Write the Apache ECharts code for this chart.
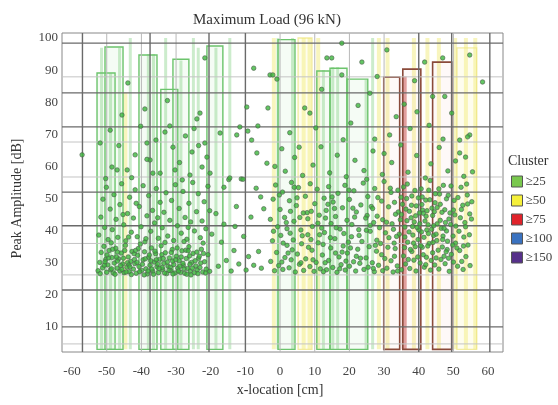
<!DOCTYPE html>
<html>
<head>
<meta charset="utf-8">
<script src="https://cdn.jsdelivr.net/npm/echarts@6/dist/echarts.min.js"></script>
<style>
  html, body { margin: 0; background: #fff; }
  #chart { width: 558px; height: 405px; }
</style>
</head>
<body>
<div id="chart"></div>
<script>
// cluster classes shown in the legend
const clusterNames = ['≥25', '≥50', '≥75', '≥100', '≥150'];

// outlined boxes: [xStart, xEnd, top] in cm / dB
const boxes25 = [[-52.8, -47.6, 89.1], [-50.5, -45.3, 97.2], [-40.7, -35.5, 94.7], [-34.4, -29.5, 84],
  [-30.9, -26.3, 93.4], [-21.1, -16.5, 97.5], [-0.6, 4.3, 99.5], [10.6, 14.4, 89.7], [14.4, 19.3, 90.6], [19.3, 25.3, 87.2]];
const boxes50 = [[5.2, 9.2, 100], [51, 56.7, 96.9]];
const boxes75 = [[29.9, 34.5, 87.8], [35.4, 40.6, 90.3], [44, 49.5, 92.5]];

// thin coloured strips: [x, top]
const strips25 = [[-51.5, 97], [-48.9, 89], [-46.3, 97], [-43.2, 100], [-38, 95], [-36.5, 95], [-33, 100], [-28.6, 93],
  [-25, 100], [-23.6, 97], [-18.5, 97], [-14.5, 100], [-0.6, 100], [3.6, 100], [12.5, 90], [15.2, 91], [16.6, 91],
  [19.6, 87], [24.8, 87], [26.7, 100]];
const strips50 = [[-44.6, 83], [-1.8, 100], [6.8, 100], [8.5, 100], [11, 100], [28.5, 100], [31, 100], [38.6, 100],
  [42.5, 100], [45.8, 100], [50.5, 100], [53.6, 100], [56.3, 100]];
const strips75 = [[35.8, 88]];

// grid lines of the original figure
const hLinesDark = [98.4, 82.9, 72.3, 52, 41.5, 21.5, 10];
const hLinesLight = [87.9, 67.6, 56.7, 36, 26.2, 4.7];
const vLinesDark = [-57, -37.5, -20.5, -10, 40, 49.5, 60.5];
const vLinesLight = [-50, -40, -30, 0, 10, 20, 30, 50];

// events: [x, amplitude]
const ptsLeftLow = [[-52.5,27.5],[-52,30.1],[-51.6,33.2],[-51.2,28.4],[-50.8,35.1],[-50.3,31],[-50,27],[-49.7,29.3],[-49.3,33.8],
  [-48.9,27.8],[-48.5,31.6],[-48.1,26.8],[-47.8,29.9],[-47.4,34.5],[-47,28.3],[-46.6,31.2],[-46.2,27.4],[-45.8,33],[-45.4,29.6],
  [-45,26.9],[-44.6,35.4],[-44.2,28.6],[-43.8,31.8],[-43.5,27.2],[-43.1,30.4],[-42.7,33.5],[-42.3,28],[-41.9,29.7],[-41.5,26.7],
  [-41.1,32.3],[-40.7,28.8],[-40.3,35.8],[-39.9,27.6],[-39.5,30.9],[-39.1,33.4],[-38.7,28.1],[-38.3,26.5],[-37.9,31.7],[-37.5,29.2],
  [-37.1,34.6],[-36.7,27.3],[-36.3,30.2],[-35.9,32.8],[-35.5,28.7],[-35.1,26.9],[-34.7,31.1],[-34.3,35.3],[-33.9,27.9],[-33.5,29.8],
  [-33.1,33.1],[-32.7,26.6],[-32.3,28.9],[-31.9,31.5],[-31.5,27.5],[-31.1,34.1],[-30.7,29.4],[-30.3,26.8],[-29.9,32],[-29.5,28.3],
  [-29.1,30.6],[-28.7,27],[-28.3,33.7],[-27.9,29.1],[-27.5,26.7],[-27.1,31.3],[-26.7,28.2],[-26.3,35],[-25.9,27.4],[-25.5,30.1],
  [-25.1,32.9],[-24.7,26.9],[-24.3,29],[-23.9,27.7],[-23.5,31.4],[-23.1,28.5],[-22.7,34.2],[-22.3,27.1],[-21.8,30.3],[-21.3,28],
  [-20.8,32.5],[-20.3,27.3],[-46.9,30.5],[-44,30],[-42,31],[-37,28],[-31,30.5],[-28,29.8],[-26,29.5],[-34,28.5],[-49.5,31.5]];
const ptsLeftDense = [[-51.9,26.6],[-50.7,29.2],[-49.9,32.4],[-48.6,28.1],[-47.6,26.4],[-46.9,33.3],[-46,29.1],[-45.2,31.4],
  [-44.4,27.1],[-43.6,29.3],[-42.9,26.3],[-42.1,32.8],[-41.3,30.1],[-40.5,27.2],[-39.7,29.5],[-38.9,31.2],[-38.1,27.4],[-37.3,30.6],
  [-36.5,26.4],[-35.7,30.9],[-34.9,28.2],[-34.1,32.5],[-33.3,26.8],[-32.5,30.2],[-31.7,28.6],[-30.9,26.5],[-30.1,30.9],[-29.3,27.4],
  [-28.5,31.8],[-27.7,28.1],[-26.9,26.4],[-26.1,32.1],[-25.3,28.3],[-24.5,30.6],[-23.7,26.6],[-22.9,29.9],[-22.1,32.9],[-21.5,26.8],
  [-48.3,34.2],[-44.8,33.8],[-40.9,34.4],[-36.1,33.6],[-31.4,33.2],[-27.2,33.9],[-24,33.3],[-47.2,31.8],[-43.3,28.7],[-39.2,26.2],
  [-35.3,29.6],[-32,27.6],[-28.9,28.9],[-25.7,26.2],[-23.3,32],[-50.5,30.3],[-45.6,27.9],[-41.7,33.8],[-37.7,32.4],[-33.7,31.3],
  [-29.7,34.6],[-26.5,33.7]];
const ptsLeftMid = [[-52.3,38.6],[-51.7,44.2],[-51.1,49.8],[-50.6,41],[-50.1,53.5],[-49.6,37.2],[-49,46.7],[-48.4,40.3],[-47.9,51.2],
  [-47.3,43.5],[-46.8,37.9],[-46.2,48.1],[-45.7,54.6],[-45.1,41.8],[-44.5,36.8],[-44,45.3],[-43.4,50.4],[-42.9,39.5],[-42.3,43.9],
  [-41.8,52.7],[-41.2,38.1],[-40.6,47.5],[-40.1,41.2],[-39.5,54],[-39,36.5],[-38.4,44.6],[-37.9,50.9],[-37.3,39.8],[-36.8,46.3],
  [-36.2,42.4],[-35.7,53.1],[-35.1,37.6],[-34.6,48.8],[-34,40.9],[-33.5,45.7],[-32.9,51.8],[-32.4,38.3],[-31.8,43.2],[-31.3,49.4],
  [-30.7,36.9],[-30.2,54.3],[-29.6,41.5],[-29.1,46.9],[-28.5,39.2],[-28,52.2],[-27.4,44.1],[-26.9,37.3],[-26.3,48.5],[-25.8,42.7],
  [-25.2,55],[-24.7,39.9],[-24.1,45.9],[-23.6,51.5],[-23,37.8],[-22.5,43],[-21.9,49],[-21.4,40.6],[-20.8,53.8],[-20.3,46.2],
  [-19.7,38.9],[-48.7,36.2],[-43.7,38],[-38.7,37.5],[-33.2,36.3],[-27.7,36.6],[-22.2,36.1],[-45.3,45],[-35.3,44],[-26.5,41],[-41.5,48.5]];
const ptsLeftHigh = [[-57.1,63.6],[-51.9,67.3],[-49,71.3],[-45.6,76],[-43.9,86],[-39,77.9],[-38.4,67.3],[-37.5,62],[-33.2,70.7],
  [-31.8,72.6],[-21.7,93.8],[-24,74.8],[-23.1,76.6],[-21.7,67.3],[-17.3,70.4],[-48.5,59.8],[-47,58.9],[-44.1,58.9],[-41.8,63.6],
  [-38.4,62.2],[-36.7,57.9],[-34.6,57.9],[-30.9,66],[-30.3,58.9],[-26,57.3],[-22.5,59.8],[-21.1,62.9],[-20.2,57.9],[-50.3,56.2],
  [-42.8,56.5],[-29,61.2],[-25.4,64.5],[-27.3,69.5],[-35.8,68.2],[-46.5,66.5],[-32.5,80.5],[-40.2,72.5],[-24.8,71.8],[-23.5,66.5],[-28.2,55.8]];
const ptsGap = [[-18.5,45.3],[-17.8,28.9],[-16.9,36.4],[-16.2,42],[-15.5,30.7],[-14.8,55.9],[-14.1,27.4],[-13.3,33.8],[-12.6,47.5],
  [-11.9,29.6],[-11.2,56.1],[-10.5,38.2],[-9.8,27.7],[-9.1,31.9],[-8.4,44.2],[-7.6,29.2],[-6.9,53.2],[-6.2,33.5],[-5.4,28.3],
  [-4.7,46.8],[-14.5,56.4],[-10.7,56],[-9.6,78.5],[-7.6,90.6],[-11.6,72.3],[-9.3,71],[-6.4,72.6],[-6.7,64.2],[-3.5,78.2],
  [-2.9,88.5],[-0.9,87.2],[-3.8,61],[-12.5,69.8],[-8.2,68.2],[-16.2,53.5],[-5.6,50.5],[-13,41.3]];
const ptsRightLow = [[-2.7,30.4],[-2.2,36.8],[-1.6,27.5],[-1,33.2],[-0.4,29.1],[0.2,38.5],[0.8,27.9],[1.4,31.6],[2,35.4],[2.6,28.4],
  [3.2,30.9],[3.8,37.1],[4.4,27.1],[5,32.7],[5.6,29.5],[6.2,35.9],[6.8,27.6],[7.4,31.2],[8,38.7],[8.6,28.8],[9.2,33.9],[9.8,27.3],
  [10.4,30.1],[11,36.2],[11.6,28.1],[12.2,32.4],[12.8,39.4],[13.4,27.8],[14,30.7],[14.6,34.6],[15.2,28.5],[15.8,37.5],[16.4,27],
  [17,31.8],[17.6,29.4],[18.2,35.2],[18.8,27.7],[19.4,33],[20,28.9],[20.6,38.1],[21.2,30.3],[21.8,27.4],[22.4,34.2],[23,29.8],
  [23.6,36.6],[24.2,27.9],[24.8,31.5],[25.4,28.6],[26,39.8],[26.6,30],[27.2,27.2],[27.8,33.6],[28.4,29.2],[29,36],[29.6,27.5],
  [30.2,31.3],[30.8,28.3],[31.4,37.8],[32,30.6],[32.6,27.1],[33.2,34.4],[33.8,29],[34.4,38.9],[35,27.8],[35.6,32.1],[36.2,29.6],
  [36.8,36.4],[37.4,28.2],[38,33.5],[38.6,30.8],[39.2,27.4],[39.8,37.2],[40.4,29.9],[41,34.8],[41.6,28.6],[42.2,31.7],[42.8,39.1],
  [43.4,27.7],[44,33.1],[44.6,29.3],[45.2,36.9],[45.8,28],[46.4,31],[47,38.3],[47.6,29.7],[48.2,34.1],[48.8,27.3],[49.4,32.6],
  [50,30.2],[50.6,36.1],[51.2,28.9],[51.8,33.8],[52.4,30.4],[53,38],[53.6,31.9],[54.2,35.5],[54.8,29.1],[37,31],[39,35],[41.3,32.5],
  [43,36],[45,31.5],[36,38],[38.3,38.6],[42,29.4],[46.8,34.9],[40.8,39.6],[13,30],[16,33],[19,30.5],[22,32],[2.3,33],[6,30],
  [8.2,34.8],[25.7,35],[29.3,32.5],[33,32],[44.3,38.5],[47.3,32],[49.8,35.5],[52.8,27.9]];
const ptsRightDense = [[0.5,30.2],[1.8,42.5],[3.5,34],[4.9,50.2],[6.4,38.4],[7.8,45.6],[9.5,30.9],[11.4,38.7],[13.1,43.9],[14.5,37.8],
  [16.2,40.9],[17.9,33.3],[19.7,36.4],[21.5,44.2],[23.2,31.4],[24.9,40.1],[26.3,47.5],[27.9,37],[29.6,43.4],[31.1,34.8],[32.3,42.1],
  [33.6,38.2],[34.9,50.4],[35.9,34.7],[36.6,43.1],[37.2,39.6],[37.9,47.9],[38.5,36.1],[39.1,44.6],[39.7,31.8],[40.3,42.1],[40.9,48.1],
  [41.5,37.9],[42.1,44.5],[42.6,35.2],[43.2,49.6],[43.7,40.4],[44.5,45.9],[45,38.9],[45.6,33.9],[46.2,43.2],[46.9,37.2],[47.5,46.5],
  [48,39.9],[48.6,31.4],[49.2,41.9],[49.9,38.3],[50.4,44.9],[51,34.6],[51.6,39.8],[52.3,46.6],[52.9,35.2],[53.5,41.2],[54.1,48.3],
  [54.6,38.7],[55.2,43.6],[36.3,46.7],[38.2,41.3],[40.6,35.3],[42.3,40.2],[44.1,36.3],[46.5,40.7],[48.3,36.7],[50.2,49.4],[37.6,34.1],
  [41.1,46.4],[45.3,47.2],[43.6,30.7],[39.9,50.2],[47.9,33.4],[2.9,39.2],[5.7,44.1],[8.9,37.2],[10.9,42.3],[12.4,35.7],[15.7,46.9],
  [18.4,39.1],[20.3,34.6],[22.8,38.5],[25.1,44.7],[27.5,35.4],[30.4,39.3],[32.9,36.1],[34.1,45.8],[0.9,36.1],[-1.9,39.8],[-0.2,51.1],
  [4.1,53.5],[13.8,48.2],[19.9,52.6],[28.2,50.3],[31.8,53.2],[35.6,53.6],[42.9,52.6],[47.1,54.1],[53.8,54.5],[12.5,27.2],[17.2,28.1],
  [26.9,28.2],[33.9,27.4]];
const ptsRightMid = [[-2.8,43.5],[-2,49.8],[-1.3,54.2],[-0.7,41.2],[0,46.6],[0.7,52],[1.3,44.1],[2,40.6],[2.7,49.3],[3.3,55],
  [4,42.9],[4.7,47.8],[5.3,53.4],[6,40.2],[6.7,45.5],[7.3,50.7],[8,43.7],[8.7,54.6],[9.3,41.3],[10,48.4],[10.7,52.9],[11.3,44.8],
  [12,40.8],[12.7,50.1],[13.3,46.3],[14,53.7],[14.7,42.2],[15.3,48.9],[16,44.4],[16.7,51.6],[17.3,40.5],[18,47.1],[18.7,54.1],
  [19.3,43.2],[20,49.7],[20.7,41.9],[21.3,52.4],[22,45.8],[22.7,40.3],[23.3,48],[24,54.8],[24.7,43.9],[25.3,50.6],[26,41.6],
  [26.7,46.9],[27.3,53.1],[28,44.5],[28.7,40.9],[29.3,49.2],[30,55.3],[30.7,42.6],[31.3,47.4],[32,51.9],[32.7,40.4],[33.3,45.1],
  [34,52.6],[34.7,43.4],[35.3,48.2],[36,41.1],[36.7,54.5],[37.3,46],[38,50.8],[38.7,42.7],[39.3,47.7],[40,40.2],[40.7,53],
  [41.3,45.4],[42,49.5],[42.7,41.8],[43.3,55.6],[44,44.7],[44.7,48.7],[45.3,42.1],[46,51.4],[46.7,45.7],[47.3,40.7],[48,49.9],
  [48.7,43.6],[49.3,53.9],[50,46.4],[50.7,41.4],[51.3,50.3],[52,44],[52.7,47.9],[53.3,42.5],[54,51.1],[54.7,45.2],[55.3,49],
  [37.8,44],[39.5,41],[41.8,43],[43.8,47],[45.8,53],[47.7,42.5],[40.2,45.5],[36.5,50],[38.9,52.5],[42.4,46.2],[44.3,41.5],
  [46.2,48.2],[49,45.5],[3,46],[9,46],[15,50.5],[21,47],[27,42.5],[33,48.8],[35,45],[41,50.5],[44.8,51.5],[48.5,51],[52.2,53.5]];
const ptsRightHigh = [[-2.1,88.5],[7.1,78.2],[8.6,76.6],[25.9,82.8],[27.3,68.5],[31.6,69.8],[44,81.8],[47.5,81.8],[49.5,76.6],
  [54.7,69.8],[51.8,64.2],[53.5,62.9],[17.8,98.4],[30.8,96.3],[23.6,92.5],[13.5,93.8],[14.9,93.8],[17.8,88.5],[41.7,92.5],
  [46.9,93.8],[54.7,94.7],[58.4,86.3],[38.8,86.7],[54.1,69.2],[51.8,68.2],[1.5,58.5],[4.2,62.8],[6.5,57.2],[9.5,60.4],[11.8,66.1],
  [14.3,58],[16.5,63.5],[19.1,56.8],[21.6,61.9],[24.2,58.7],[26.8,64.8],[29.5,57.5],[32.2,61.2],[34.8,66.7],[36.9,58.2],[39.4,63.4],
  [41.9,56.4],[43.5,60.8],[45.9,65.9],[48.4,58.6],[50.6,61.7],[53,56.9],[55.5,58.3],[2.8,70.5],[10.3,72],[20.4,73.5],[33.5,75.5],
  [37.5,71.8],[43,72.8],[35.8,79.4],[22.5,79],[12,84],[28,88],[39.5,77],[5.5,66],[18.2,68.3],[30,64],[47,68.5],[25,56],[-1.5,60],[0.5,65.5]];

const boxBase = 3;
const serif = 'Liberation Serif';

const chart = echarts.init(document.getElementById('chart'));

function boxSeries(name, data, stroke, fill, lw) {
  return {
    name, type: 'custom', xAxisIndex: 1, yAxisIndex: 1, z: 2, silent: true,
    renderItem(params, api) {
      const a = api.coord([api.value(0), api.value(2)]);
      const b = api.coord([api.value(1), boxBase]);
      return { type: 'rect', shape: { x: a[0], y: a[1], width: b[0] - a[0], height: b[1] - a[1] },
        style: { fill, stroke, lineWidth: lw } };
    },
    data
  };
}

function stripSeries(data, fill, w) {
  return {
    type: 'custom', xAxisIndex: 1, yAxisIndex: 1, z: 1, silent: true,
    renderItem(params, api) {
      const a = api.coord([api.value(0), api.value(1)]);
      const b = api.coord([api.value(0), boxBase]);
      return { type: 'rect', shape: { x: a[0] - w / 2, y: a[1], width: w, height: b[1] - a[1] }, style: { fill } };
    },
    data
  };
}

function lineSeries(values, horizontal, stroke, lw) {
  return {
    type: 'custom', xAxisIndex: 1, yAxisIndex: 1, z: 3, silent: true,
    renderItem(params, api) {
      const cs = params.coordSys;
      if (horizontal) {
        const y = api.coord([0, api.value(1)])[1];
        return { type: 'line', shape: { x1: cs.x, y1: y, x2: cs.x + cs.width, y2: y }, style: { stroke, lineWidth: lw } };
      }
      const x = api.coord([api.value(0), 50])[0];
      return { type: 'line', shape: { x1: x, y1: cs.y, x2: x, y2: cs.y + cs.height }, style: { stroke, lineWidth: lw } };
    },
    data: values.map(v => horizontal ? [0, v] : [v, 50])
  };
}

const legendColors = ['#79c84e', '#f5f03a', '#e0232b', '#3a72c0', '#56308a'];

chart.setOption({
  animation: false,
  title: [
    { text: 'Maximum Load (96 kN)', left: 188, top: 8,
      textStyle: { fontFamily: serif, fontSize: 15, fontWeight: 'normal', color: '#333' } },
    { text: 'Cluster', left: 503, top: 149,
      textStyle: { fontFamily: serif, fontSize: 14, fontWeight: 'normal', color: '#333' } }
  ],
  legend: {
    orient: 'vertical', left: 506, top: 170, itemWidth: 11, itemHeight: 11, itemGap: 6,
    icon: 'rect', selectedMode: false,
    textStyle: { fontFamily: serif, fontSize: 13, color: '#444', lineHeight: 11, padding: [0, 0, 0, -2] },
    data: clusterNames.map((n, i) => ({ name: n, itemStyle: { color: legendColors[i], borderColor: '#555', borderWidth: 1 } }))
  },
  grid: [
    { left: 72, right: 70, top: 38, bottom: 46 },
    { left: 62, right: 55, top: 33, bottom: 53, show: true, borderColor: '#888', borderWidth: 1, backgroundColor: 'transparent' }
  ],
  xAxis: [
    { gridIndex: 0, type: 'value', min: -60, max: 60, interval: 10,
      name: 'x-location [cm]', nameLocation: 'middle', nameGap: 24,
      nameTextStyle: { fontFamily: serif, fontSize: 14, color: '#333' },
      axisLine: { show: false }, axisTick: { show: false }, splitLine: { show: false },
      axisLabel: { fontFamily: serif, fontSize: 13, color: '#444', margin: 6 } },
    { gridIndex: 1, type: 'value', min: -62.9, max: 64.3, show: false, splitLine: { show: false } }
  ],
  yAxis: [
    { gridIndex: 0, type: 'value', min: 0, max: 100, interval: 10,
      name: 'Peak Amplitude [dB]', nameLocation: 'middle', nameGap: 48,
      nameTextStyle: { fontFamily: serif, fontSize: 14, color: '#333' },
      axisLine: { show: false }, axisTick: { show: false }, splitLine: { show: false },
      axisLabel: { fontFamily: serif, fontSize: 13, color: '#444', margin: 14, formatter: v => v === 0 ? '' : v } },
    { gridIndex: 1, type: 'value', min: 2.18, max: 101.56, show: false, splitLine: { show: false } }
  ],
  series: [
    stripSeries(strips25, 'rgba(110,200,110,0.35)', 3),
    stripSeries(strips50, 'rgba(240,232,110,0.45)', 4),
    stripSeries(strips75, 'rgba(205,95,95,0.6)', 5),
    boxSeries('≥25', boxes25, '#6cc46c', 'rgba(130,215,130,0.08)', 1.4),
    boxSeries('≥50', boxes50, 'rgba(236,228,122,0.7)', 'rgba(250,245,150,0.16)', 1.3),
    boxSeries('≥75', boxes75, '#8a4a3a', 'rgba(230,150,130,0.06)', 1.6),
    { name: '≥100', type: 'custom', xAxisIndex: 1, yAxisIndex: 1, renderItem: () => null, data: [] },
    { name: '≥150', type: 'custom', xAxisIndex: 1, yAxisIndex: 1, renderItem: () => null, data: [] },
    lineSeries(hLinesLight, true, '#c4c4c4', 1),
    lineSeries(vLinesLight, false, '#b8b8b8', 1),
    lineSeries(hLinesDark, true, '#6a6a6a', 1.4),
    lineSeries(vLinesDark, false, '#6a6a6a', 1.4),
    { name: 'events', type: 'scatter', xAxisIndex: 1, yAxisIndex: 1, z: 5, silent: true, symbolSize: 4.5,
      itemStyle: { color: '#3cb83c', borderColor: '#4f604f', borderWidth: 0.8 },
      data: [].concat(ptsLeftLow, ptsLeftDense, ptsLeftMid, ptsLeftHigh, ptsGap, ptsRightLow, ptsRightDense, ptsRightMid, ptsRightHigh) }
  ]
});
</script>
</body>
</html>
